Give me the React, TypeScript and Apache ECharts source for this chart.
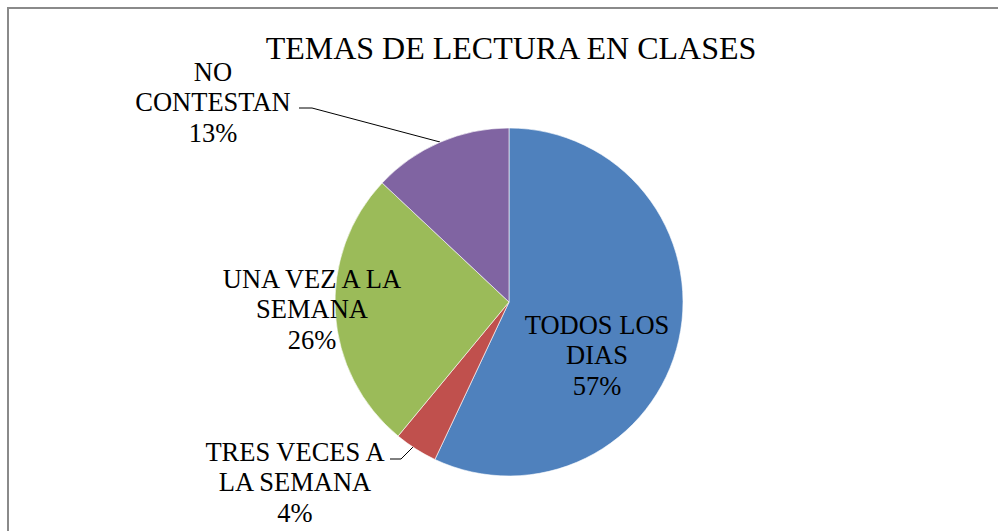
import React, { useEffect, useRef } from "react";
import * as echarts from "echarts";

const TITLE = "TEMAS DE LECTURA EN CLASES";
const categories = ["TODOS LOS DIAS", "TRES VECES A LA SEMANA", "UNA VEZ A LA SEMANA", "NO CONTESTAN"];
const labelNames = ["TODOS LOS\nDIAS", "TRES VECES A\nLA SEMANA", "UNA VEZ A LA\nSEMANA", "NO\nCONTESTAN"];
const values = [57, 4, 26, 13];
const colors = ["#4F81BD", "#C0504D", "#9BBB59", "#8064A2"];

// label block centres (x, y) and leader-line points per slice
const labelCenters: number[][] = [
  [597, 355],
  [295, 482],
  [312, 309],
  [213, 102],
];
const leaderLines: (number[][] | null)[] = [
  null,
  [[390, 459], [401, 459], [413, 447]],
  null,
  [[299, 108], [312, 108], [440, 142]],
];

const FONT = "'Liberation Serif', 'Times New Roman', serif";

export default function App() {
  const ref = useRef<HTMLDivElement>(null);
  useEffect(() => {
    if (!ref.current) return;
    const chart = echarts.init(ref.current, undefined, { renderer: "svg" });
    const labelStyle = {
      fontFamily: FONT,
      fontSize: 26.5,
      lineHeight: 30.5,
      color: "#000",
    };
    chart.setOption({
      animation: false,
      backgroundColor: "#ffffff",
      textStyle: { fontFamily: FONT },
      title: {
        text: TITLE,
        left: 506,
        top: 27,
        textAlign: "center",
        textStyle: { fontFamily: FONT, fontSize: 32, fontWeight: "normal", color: "#000" },
      },
      graphic: [
        {
          type: "rect",
          shape: { x: 8, y: 8, width: 1010, height: 560 },
          style: { fill: "none", stroke: "#8a8a8a", lineWidth: 2 },
          silent: true,
        },
      ],
      series: [
        {
          type: "pie",
          center: [509, 302],
          radius: 174,
          startAngle: 90,
          clockwise: true,
          itemStyle: { borderColor: "#ffffff", borderWidth: 0.6 },
          label: {
            show: true,
            position: "outside",
            ...labelStyle,
            align: "center",
            formatter: (p: any) => "{t|" + labelNames[p.dataIndex] + "\n" + values[p.dataIndex] + "%}",
            rich: { t: { ...labelStyle, align: "center" } },
          },
          labelLine: { show: true, lineStyle: { color: "#000", width: 1 } },
          labelLayout: (params: any) => {
            const i = params.dataIndex;
            const c = labelCenters[i];
            const res: any = { x: c[0], y: c[1], align: "center", verticalAlign: "middle" };
            const ll = leaderLines[i];
            if (ll) res.labelLinePoints = ll;
            return res;
          },
          data: categories.map((name, i) => ({
            name,
            value: values[i],
            itemStyle: { color: colors[i] },
            labelLine: { show: leaderLines[i] !== null },
          })),
        },
      ],
    });
    return () => chart.dispose();
  }, []);
  return (
    <div
      ref={ref}
      style={{ position: "fixed", left: 0, top: 0, width: 998, height: 531, background: "#fff" }}
    />
  );
}
